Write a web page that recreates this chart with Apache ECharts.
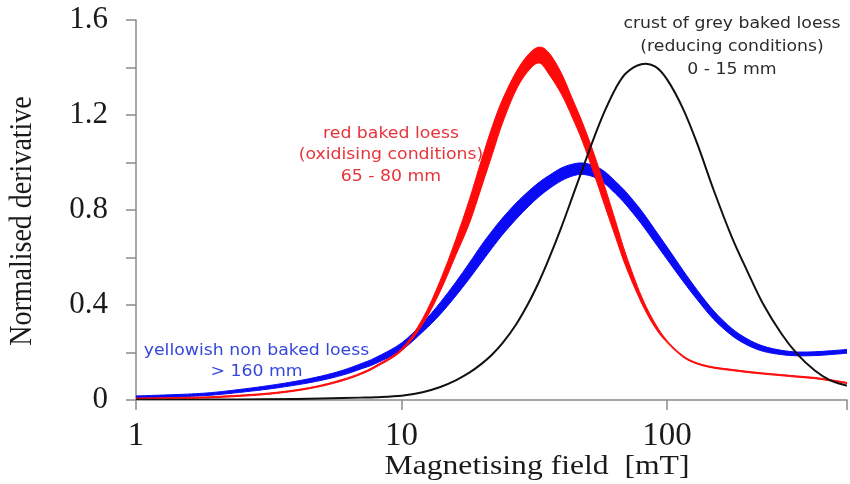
<!DOCTYPE html>
<html>
<head>
<meta charset="utf-8">
<script src="https://cdn.jsdelivr.net/npm/echarts@6/dist/echarts.min.js"></script>
<style>
    html, body { margin: 0; padding: 0; background: #ffffff; }
    #chart-container { width: 850px; height: 484px; }
</style>
</head>
<body>
<div id="chart-container"></div>
<script>
// magnetising field [mT], shared by every curve
const fieldValues = [1, 1.5, 2, 3, 4, 5, 6, 7, 8, 10, 12, 14, 16, 18, 20, 22, 24, 27, 30, 33, 36, 40, 44, 48, 53, 58, 64, 70, 80, 90, 100, 115, 130, 150, 175, 200, 230, 270, 310, 360, 410, 476];

// red baked loess (oxidising conditions) - upper and lower edge of the band
const redUpper = [0.008, 0.011, 0.015, 0.027, 0.043, 0.063, 0.087, 0.113, 0.145, 0.216, 0.342, 0.504, 0.675, 0.843, 1.011, 1.154, 1.265, 1.381, 1.454, 1.486, 1.46, 1.376, 1.268, 1.168, 1.038, 0.905, 0.752, 0.612, 0.438, 0.324, 0.25, 0.186, 0.156, 0.139, 0.129, 0.121, 0.114, 0.107, 0.101, 0.095, 0.086, 0.074];
const redLower = [0.003, 0.006, 0.01, 0.022, 0.038, 0.058, 0.081, 0.107, 0.138, 0.206, 0.318, 0.459, 0.609, 0.743, 0.896, 1.037, 1.166, 1.305, 1.385, 1.419, 1.37, 1.288, 1.189, 1.089, 0.955, 0.824, 0.685, 0.561, 0.41, 0.306, 0.242, 0.18, 0.151, 0.134, 0.124, 0.116, 0.109, 0.102, 0.096, 0.09, 0.081, 0.069];

// yellowish non baked loess
const blueUpper = [0.017, 0.024, 0.033, 0.057, 0.079, 0.101, 0.125, 0.152, 0.179, 0.24, 0.324, 0.411, 0.496, 0.577, 0.652, 0.714, 0.766, 0.829, 0.878, 0.917, 0.946, 0.977, 0.993, 0.998, 0.987, 0.963, 0.92, 0.876, 0.798, 0.717, 0.644, 0.545, 0.462, 0.375, 0.302, 0.258, 0.227, 0.209, 0.202, 0.203, 0.207, 0.213];
const blueLower = [0.008, 0.014, 0.022, 0.043, 0.063, 0.083, 0.105, 0.13, 0.154, 0.21, 0.286, 0.361, 0.438, 0.511, 0.58, 0.642, 0.696, 0.761, 0.814, 0.857, 0.89, 0.923, 0.943, 0.95, 0.939, 0.913, 0.868, 0.822, 0.742, 0.663, 0.592, 0.499, 0.422, 0.339, 0.272, 0.232, 0.205, 0.191, 0.186, 0.187, 0.191, 0.197];

// crust of grey baked loess (reducing conditions)
const blackValues = [0.001, 0.001, 0.002, 0.003, 0.004, 0.006, 0.008, 0.01, 0.012, 0.018, 0.033, 0.055, 0.083, 0.115, 0.152, 0.193, 0.239, 0.318, 0.406, 0.5, 0.598, 0.728, 0.855, 0.972, 1.103, 1.212, 1.312, 1.376, 1.414, 1.405, 1.35, 1.225, 1.078, 0.882, 0.688, 0.545, 0.404, 0.278, 0.192, 0.124, 0.084, 0.06];

const xTickLabels = [1, 10, 100];
const yTickLabels = [0, 0.4, 0.8, 1.2, 1.6];

const annotations = [
    { text: 'crust of grey baked loess\n(reducing conditions)\n0 - 15 mm', color: '#2b2b2b', x: 732, y: 12.5, lineHeight: 23 },
    { text: 'red baked loess\n(oxidising conditions)\n65 - 80 mm', color: '#e8333a', x: 391, y: 123, lineHeight: 21.5 },
    { text: 'yellowish non baked loess\n> 160 mm', color: '#3447dc', x: 256.5, y: 340.5, lineHeight: 21 }
];

(function () {
    const chartDom = document.getElementById('chart-container');
    const myChart = echarts.init(chartDom);

    // Catmull-Rom through pixel points, written as cubic bezier segments
    function smoothSegments(pts) {
        let d = '';
        for (let i = 0; i < pts.length - 1; i++) {
            const p0 = pts[Math.max(i - 1, 0)];
            const p1 = pts[i];
            const p2 = pts[i + 1];
            const p3 = pts[Math.min(i + 2, pts.length - 1)];
            const c1 = [p1[0] + (p2[0] - p0[0]) / 6, p1[1] + (p2[1] - p0[1]) / 6];
            const c2 = [p2[0] - (p3[0] - p1[0]) / 6, p2[1] - (p3[1] - p1[1]) / 6];
            d += ' C' + c1.join(',') + ' ' + c2.join(',') + ' ' + p2.join(',');
        }
        return d;
    }

    // one custom series per curve; the whole band/line is drawn once, from item 0
    function curveSeries(name, color, upper, lower, width) {
        return {
            name: name,
            type: 'custom',
            silent: true,
            clip: true,
            data: fieldValues.map((x, i) => [x, lower[i], upper[i]]),
            encode: { x: 0, y: [1, 2] },
            renderItem: function (params, api) {
                if (params.dataIndex !== 0) {
                    return null;
                }
                const up = fieldValues.map((x, i) => api.coord([x, upper[i]]));
                if (lower === upper) {
                    return {
                        type: 'path',
                        shape: { pathData: 'M' + up[0].join(',') + smoothSegments(up) },
                        style: { fill: 'none', stroke: color, lineWidth: width }
                    };
                }
                const lo = fieldValues.map((x, i) => api.coord([x, lower[i]])).reverse();
                const d = 'M' + up[0].join(',') + smoothSegments(up) +
                    ' L' + lo[0].join(',') + smoothSegments(lo) + ' Z';
                return {
                    type: 'path',
                    shape: { pathData: d },
                    style: { fill: color, stroke: color, lineWidth: width }
                };
            }
        };
    }

    const serif = 'Liberation Serif';
    // the source picture is stretched sideways a little, text too
    const stretch = 1.13;

    const texts = annotations.map(a => ({
        type: 'text',
        silent: true,
        z: 100,
        x: a.x,
        y: a.y,
        scaleX: stretch,
        style: {
            text: a.text,
            x: 0,
            y: 0,
            align: 'center',
            verticalAlign: 'top',
            lineHeight: a.lineHeight,
            fill: a.color,
            fontFamily: 'DejaVu Sans',
            fontSize: 15.3
        }
    }));
    // axis titles
    texts.push({
        type: 'text',
        silent: true,
        z: 100,
        x: 537,
        y: 467,
        scaleX: stretch,
        style: {
            text: 'Magnetising field  [mT]',
            x: 0,
            y: 0,
            align: 'center',
            verticalAlign: 'middle',
            fill: '#1a1a1a',
            fontFamily: serif,
            fontSize: 28
        }
    });
    texts.push({
        type: 'text',
        silent: true,
        z: 100,
        x: 23,
        y: 221,
        rotation: Math.PI / 2,
        scaleY: stretch,
        style: {
            text: 'Normalised derivative',
            x: 0,
            y: 0,
            align: 'center',
            verticalAlign: 'middle',
            fill: '#1a1a1a',
            fontFamily: serif,
            fontSize: 28
        }
    });

    const option = {
        backgroundColor: '#ffffff',
        animation: false,
        grid: { left: 136, right: 0, top: 20, bottom: 84 },
        xAxis: {
            type: 'log',
            logBase: 10,
            min: 1,
            max: 476,
            axisLine: { lineStyle: { color: '#8a8a8a', width: 1.5 } },
            axisTick: { inside: false, length: 10, lineStyle: { color: '#8a8a8a', width: 1.5 } },
            splitLine: { show: false },
            axisLabel: {
                margin: 20,
                color: '#1a1a1a',
                fontFamily: serif,
                fontSize: 33,
                formatter: function (v) {
                    const r = Math.round(v);
                    return xTickLabels.indexOf(r) >= 0 && Math.abs(v - r) < 1e-6 ? String(r) : '';
                }
            }
        },
        yAxis: {
            type: 'value',
            min: 0,
            max: 1.6,
            interval: 0.2,
            axisLine: { show: true, lineStyle: { color: '#8a8a8a', width: 1.5 } },
            axisTick: { show: true, length: 10, lineStyle: { color: '#8a8a8a', width: 1.5 } },
            splitLine: { show: false },
            axisLabel: {
                margin: 28,
                color: '#1a1a1a',
                fontFamily: serif,
                fontSize: 31,
                formatter: function (v) {
                    const hit = yTickLabels.find(t => Math.abs(t - v) < 1e-6);
                    return hit === undefined ? '' : String(hit);
                }
            }
        },
        graphic: texts,
        series: [
            curveSeries('yellowish non baked loess', '#0a0af5', blueUpper, blueLower, 1),
            curveSeries('red baked loess', '#ff0a0a', redUpper, redLower, 1),
            curveSeries('crust of grey baked loess', '#111111', blackValues, blackValues, 2)
        ]
    };
    myChart.setOption(option);
}());
</script>
</body>
</html>
